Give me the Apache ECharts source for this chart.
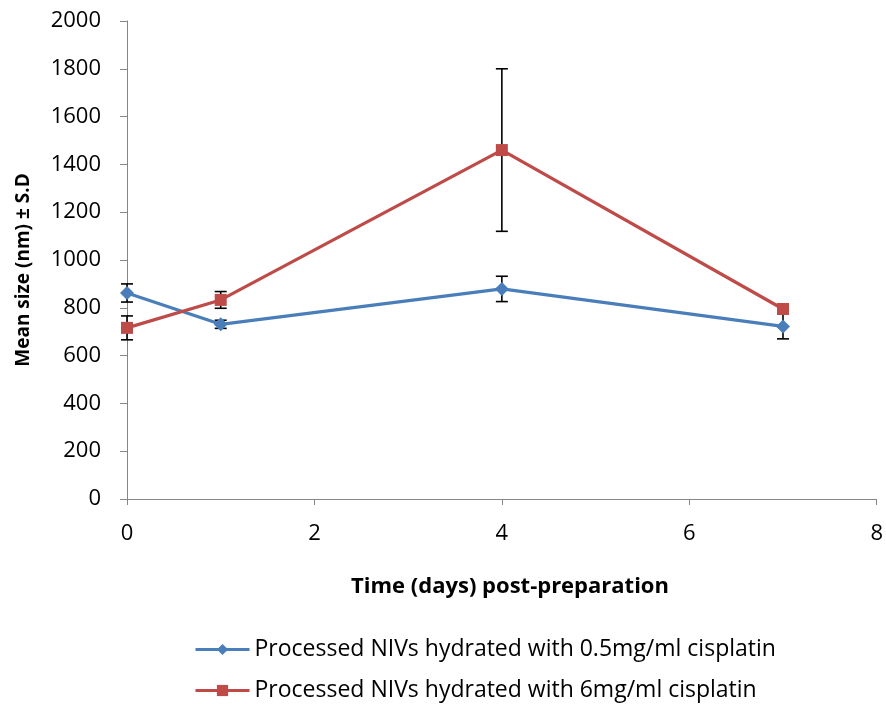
<!DOCTYPE html>
<html>
<head>
<meta charset="utf-8">
<script src="https://cdn.jsdelivr.net/npm/echarts@6/dist/echarts.min.js"></script>
<style>
  html, body { margin: 0; padding: 0; background: #fff; }
  #chart { width: 886px; height: 704px; }
</style>
</head>
<body>
<div id="chart"></div>
<script>
// Days after preparation
const days = [0, 1, 4, 7];

// Mean vesicle size (nm) and standard deviation per formulation
const lowDoseName = 'Processed NIVs hydrated with 0.5mg/ml cisplatin';
const lowDoseMean = [862, 731, 879, 722];
const lowDoseSD = [38, 17, 53, 52];

const highDoseName = 'Processed NIVs hydrated with 6mg/ml cisplatin';
const highDoseMean = [716, 833, 1460, 795];
const highDoseSD = [50, 35, 340, 10];

const xTicks = [0, 2, 4, 6, 8];
const yTicks = [0, 200, 400, 600, 800, 1000, 1200, 1400, 1600, 1800, 2000];

const FONT = '"Open Sans", "Liberation Sans", sans-serif';
const blue = '#4A7EBB';
const red = '#BE4B48';

function pairs(xs, ys) { return xs.map((x, i) => [x, ys[i]]); }
function errRows(xs, m, sd) { return xs.map((x, i) => [x, m[i] - sd[i], m[i] + sd[i]]); }

// Vertical whisker with caps for each mean ± SD
function renderError(params, api) {
  const x = api.value(0);
  const lo = api.coord([x, api.value(1)]);
  const hi = api.coord([x, api.value(2)]);
  const half = 6;
  const style = { stroke: '#000', lineWidth: 1.6 };
  return {
    type: 'group',
    children: [
      { type: 'line', shape: { x1: lo[0], y1: lo[1], x2: hi[0], y2: hi[1] }, style },
      { type: 'line', shape: { x1: hi[0] - half, y1: hi[1], x2: hi[0] + half, y2: hi[1] }, style },
      { type: 'line', shape: { x1: lo[0] - half, y1: lo[1], x2: lo[0] + half, y2: lo[1] }, style }
    ]
  };
}

// One legend entry per row, stacked under the axis title
function legendRow(name, top) {
  return {
    orient: 'horizontal',
    left: 189,
    top: top,
    itemWidth: 54,
    itemHeight: 14,
    lineStyle: { width: 3 },
    textStyle: { fontSize: 23, color: '#000', fontFamily: FONT },
    data: [name]
  };
}

const chart = echarts.init(document.getElementById('chart'));
chart.setOption({
  animation: false,
  backgroundColor: '#fff',
  textStyle: { fontFamily: FONT },
  grid: { left: 127, right: 9, top: 21, bottom: 205 },
  xAxis: {
    type: 'value',
    min: xTicks[0],
    max: xTicks[xTicks.length - 1],
    interval: 2,
    axisLine: { lineStyle: { color: '#868686', width: 1 } },
    axisTick: { show: true, length: 6, lineStyle: { color: '#868686' } },
    splitLine: { show: false },
    axisLabel: { fontSize: 22, color: '#000', margin: 24, fontFamily: FONT, formatter: v => String(v) }
  },
  yAxis: {
    type: 'value',
    min: yTicks[0],
    max: yTicks[yTicks.length - 1],
    interval: 200,
    axisLine: { show: true, lineStyle: { color: '#868686', width: 1 } },
    axisTick: { show: true, length: 7, lineStyle: { color: '#868686' } },
    splitLine: { show: false },
    axisLabel: { fontSize: 22, color: '#000', margin: 26, fontFamily: FONT, formatter: v => String(v) }
  },
  legend: [
    legendRow(lowDoseName, 633),
    legendRow(highDoseName, 674)
  ],
  graphic: [
    {
      type: 'text',
      x: 510,
      y: 587,
      style: {
        text: 'Time (days) post-preparation',
        fontSize: 22, fontWeight: 'bold', fontFamily: FONT,
        fill: '#000', align: 'center', verticalAlign: 'middle'
      }
    },
    {
      type: 'text',
      x: 24,
      y: 270,
      rotation: Math.PI / 2,
      style: {
        text: 'Mean size (nm) ± S.D',
        fontSize: 19, fontWeight: 'bold', fontFamily: FONT,
        fill: '#000', align: 'center', verticalAlign: 'middle'
      }
    }
  ],
  series: [
    {
      type: 'custom',
      name: 'lowErr',
      renderItem: renderError,
      data: errRows(days, lowDoseMean, lowDoseSD),
      encode: { x: 0, y: [1, 2] },
      z: 1,
      silent: true
    },
    {
      type: 'custom',
      name: 'highErr',
      renderItem: renderError,
      data: errRows(days, highDoseMean, highDoseSD),
      encode: { x: 0, y: [1, 2] },
      z: 1,
      silent: true
    },
    {
      name: lowDoseName,
      type: 'line',
      data: pairs(days, lowDoseMean),
      symbol: 'diamond',
      symbolSize: 14,
      lineStyle: { color: blue, width: 3.2 },
      itemStyle: { color: blue },
      z: 3
    },
    {
      name: highDoseName,
      type: 'line',
      data: pairs(days, highDoseMean),
      symbol: 'rect',
      symbolSize: 12,
      lineStyle: { color: red, width: 3.2 },
      itemStyle: { color: red },
      z: 4
    }
  ]
});
</script>
</body>
</html>
